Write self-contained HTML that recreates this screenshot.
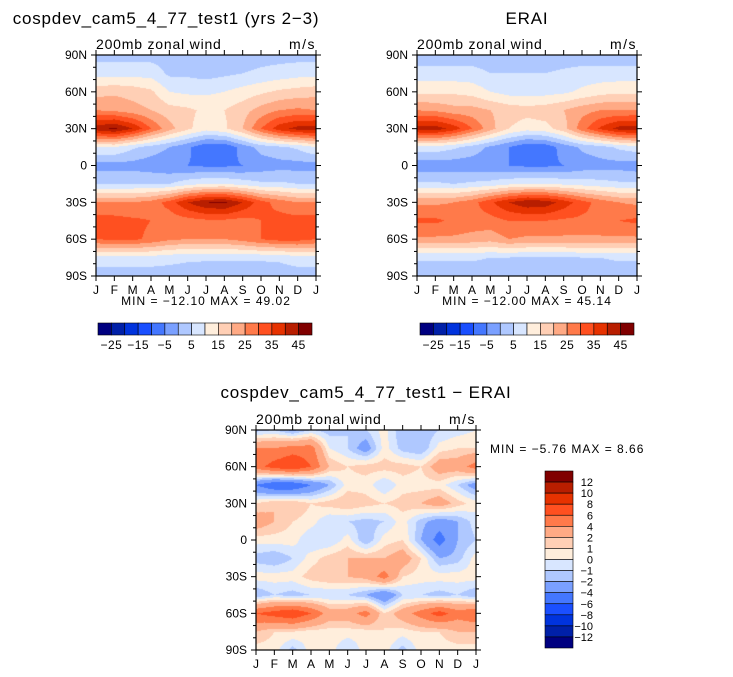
<!DOCTYPE html>
<html><head><meta charset="utf-8">
<style>
body{margin:0;background:#fff;width:733px;height:677px;overflow:hidden;position:relative;font-family:"Liberation Sans",sans-serif;}
canvas{position:absolute;left:0;top:0;}
svg{position:absolute;left:0;top:0;}
</style></head><body>
<canvas id="cv" width="733" height="677"></canvas>
<svg id="sv" width="733" height="677"></svg>
<script>
const months=["J","F","M","A","M","J","J","A","S","O","N","D","J"];
const lats=[90,75,60,45,30,15,0,-15,-30,-45,-60,-75,-90];
const latLabels=["90N","60N","30N","0","30S","60S","90S"];
const latTickVals=[90,60,30,0,-30,-60,-90];
const colors=["#000080","#0020A8","#0033DD","#1A4FFF","#4477FF","#7AA0FF","#AFC8FF","#D8E6FF","#FFEEDC","#FFCFB5","#FFAA85","#FF7A4A","#FF5020","#E63200","#B81E00","#800000"];
const levelsMain=[-25,-20,-15,-10,-5,0,5,10,15,20,25,30,35,40,45];
const labelsMain=["-25","-15","-5","5","15","25","35","45"];
const levelsDiff=[-12,-10,-8,-6,-4,-2,-1,0,1,2,4,6,8,10,12];
const labelsDiff=["12","10","8","6","4","2","1","0","-1","-2","-4","-6","-8","-10","-12"];
const modelData=[
[3,3,3,3,3,2,2,3,2,3,3,3,3],
[8,8,8,8,4,4,3,4,5,6,7,8,8],
[18,19,18,16,10,9,9,10,12,14,16,17,18],
[25,24,22,20,17,16,14,15,18,22,25,26,25],
[43,46,40,30,22,16,12,14,20,30,38,42,43],
[10,10,6,3,0,-4,-9,-9,-3,2,4,6,10],
[-2,-2,-2,-3,-4,-5,-6,-6,-5,-3,-2,-2,-2],
[5,5,5,5,5,8,10,10,8,6,6,5,5],
[25,25,25,27,32,40,45,46,40,32,28,25,25],
[32,32,31,30,27,28,29,29,28,30,32,32,32],
[30,31,31,29,26,25,25,25,27,30,32,32,30],
[8,8,8,8,7,6,6,6,6,6,6,8,8],
[2,2,2,2,2,2,1,1,0,1,2,2,2]];
const eraiData=[
[2,2,2,2,2,2,2,2,2,2,2,2,2],
[7,7,7,7,5,5,5,5,6,7,7,7,7],
[14,14,14,13,10,8,8,8,9,11,13,14,14],
[25,24,22,22,20,18,17,18,20,23,25,25,25],
[42,43,38,30,22,15,12,13,18,28,36,42,43],
[8,8,6,3,-1,-5,-9,-8,-3,1,3,6,8],
[-3,-3,-3,-3,-4,-5,-6,-6,-5,-3,-2,-2,-3],
[6,6,5,6,7,9,10,10,9,8,7,6,6],
[24,24,25,28,34,40,44,43,38,32,28,25,24],
[31,31,29,28,28,30,30,30,29,29,29,30,31],
[24,24,24,23,22,25,24,24,24,24,24,24,24],
[6,6,6,6,5,5,4,4,4,5,5,6,6],
[1,1,1,1,1,1,0,0,0,0,1,1,1]];
const diffData=[
[-1.5,-1,-2.5,-1,-1.5,-1,-1,0.5,-2,-2,-1,-0.5,0],
[4,4,5,5,0,-1,-3,0.5,-1.5,-2,0.5,1,1],
[5,7,8,6,2,1,1.5,1.5,1.5,1,3,3,5],
[-4,-6,-6,-4,-2,0.5,0.5,-1,0.5,0.5,0.5,-1,-3],
[1,2,2,1,1.5,2,1.5,1,1.5,2,3,1.5,0.5],
[3,2,1,0.5,-1,-1,-1.5,-1,0.5,-1.5,-3,-2,-0.5],
[0.5,0.5,0.5,-1,-1,0.5,-2,0.5,1,-2,-5,-2,-1],
[-1.5,-2,-1,0.5,1.5,2,2,2,3,1,-2,-1.5,0.5],
[0.5,0.5,0.5,1.5,2,2,2.5,5,1,0.5,0.5,0.5,0.5],
[-2,-1,-1.5,-1,-1,-1,-2,-4,-1,-1,-1.5,-1,-2],
[6,7,8,6,3,3,5,1,3,5,7,5,6],
[2,1,1,0.5,0.5,0.5,0.5,1,0.5,1,1,2,2],
[0.5,0.5,-1.5,0.5,0.5,-1,0.5,0.5,-1.5,0.5,0.5,0.5,0.5]];

const ctx=document.getElementById('cv').getContext('2d');
const sv=document.getElementById('sv');
const NS="http://www.w3.org/2000/svg";
function mk(tag,attrs,name,parent){const e=document.createElementNS(NS,tag);for(const k in attrs)e.setAttribute(k,attrs[k]);


(parent||sv).appendChild(e);return e;}
function txt(x,y,s,size,anchor,name,ls){const t=mk('text',{x:x,y:y,'font-size':size,'text-anchor':anchor||'middle','font-family':'Liberation Sans, sans-serif',fill:'#000','letter-spacing':ls||0},name);t.textContent=s;return t;}
function colorFor(v,lev){let i=0;while(i<lev.length&&v>=lev[i])i++;return colors[i];}
function hex(c){return [parseInt(c.substr(1,2),16),parseInt(c.substr(3,2),16),parseInt(c.substr(5,2),16)];}

function panel(x0,y0,w,h,data,lev,name){
  const xs=m=>x0+m*w/12;
  const ys=lat=>y0+(90-lat)/180*h;
  const img=ctx.createImageData(w,h);
  for(let py=0;py<h;py++){
    const lat=90-(py+0.5)/h*180;
    const fr=(90-lat)/15;let r=Math.min(11,Math.floor(fr));const ty=fr-r;
    for(let px=0;px<w;px++){
      const fm=(px+0.5)/w*12;let c=Math.min(11,Math.floor(fm));const tx=fm-c;
      const v=(1-ty)*((1-tx)*data[r][c]+tx*data[r][c+1])+ty*((1-tx)*data[r+1][c]+tx*data[r+1][c+1]);
      const rgb=hex(colorFor(v,lev));const k=(py*w+px)*4;
      img.data[k]=rgb[0];img.data[k+1]=rgb[1];img.data[k+2]=rgb[2];img.data[k+3]=255;
    }
  }
  ctx.putImageData(img,x0,y0);
  const g=mk('g',{},name+'-axes');
  mk('rect',{x:x0,y:y0,width:w,height:h,fill:'none',stroke:'#000','stroke-width':1.2},name+'-frame',g);
  for(let m=0;m<13;m++){
    mk('line',{x1:xs(m),y1:y0+h,x2:xs(m),y2:y0+h+5,stroke:'#000'},'x-tick',g);
    mk('line',{x1:xs(m),y1:y0,x2:xs(m),y2:y0-5,stroke:'#000'},'x-tick-top',g);
    txt(xs(m),y0+h+18,months[m],12,'middle','x-tick-label');
  }
  for(let lat=-90;lat<=90;lat+=10){
    const major=lat%30===0;const L=major?5:3;
    mk('line',{x1:x0,y1:ys(lat),x2:x0-L,y2:ys(lat),stroke:'#000'},'y-tick',g);
    mk('line',{x1:x0+w,y1:ys(lat),x2:x0+w+L,y2:ys(lat),stroke:'#000'},'y-tick-right',g);
  }
  latTickVals.forEach((v,i)=>txt(x0-9,ys(v)+4,latLabels[i],12,'end','y-tick-label'));
  txt(x0,y0-6,'200mb zonal wind',14,'start','subtitle',0.8);
  txt(x0+w,y0-6,'m/s',14,'end','units-label',1.5);
}
function hbar(x0,y0,w,h){
  const bw=w/16;
  colors.forEach((c,i)=>mk('rect',{x:x0+i*bw,y:y0,width:bw,height:h,fill:c,stroke:'#000','stroke-width':0.6},'colorbar-box'));
  labelsMain.forEach((l,i)=>txt(x0+(1+2*i)*bw,y0+h+14,l.replace('-','\u2212'),12,'middle','colorbar-label',0.5));
}
panel(96,55,220,221,modelData,levelsMain,'model');
panel(417,55,220,221,eraiData,levelsMain,'erai');
panel(256,430,220,220,diffData,levelsDiff,'diff');
hbar(98,323,214,12);
hbar(420,323,214,12);
(function(){const x0=545,y0=471,w=28,h=177,bh=h/16;
 for(let i=0;i<16;i++)mk('rect',{x:x0,y:y0+i*bh,width:w,height:bh,fill:colors[15-i],stroke:'#000','stroke-width':0.6},'diff-colorbar-box');
 labelsDiff.forEach((l,i)=>txt(x0+w+20,y0+(i+1)*bh+4,l.replace('-','\u2212'),11,'end','diff-colorbar-label'));
})();
txt(166,24,'cospdev_cam5_4_77_test1 (yrs 2\u22123)',17,'middle','model-title',0.8);
txt(527,24,'ERAI',17,'middle','erai-title',0.8);
txt(366,398,'cospdev_cam5_4_77_test1 \u2212 ERAI',17,'middle','diff-title',0.8);
txt(206,305,'MIN = \u221212.10 MAX =  49.02',12,'middle','model-minmax',1);
txt(527,305,'MIN = \u221212.00 MAX =  45.14',12,'middle','erai-minmax',1);
txt(490,453,'MIN =  \u22125.76 MAX =   8.66',12,'start','diff-minmax',1);
</script>
</body></html>
